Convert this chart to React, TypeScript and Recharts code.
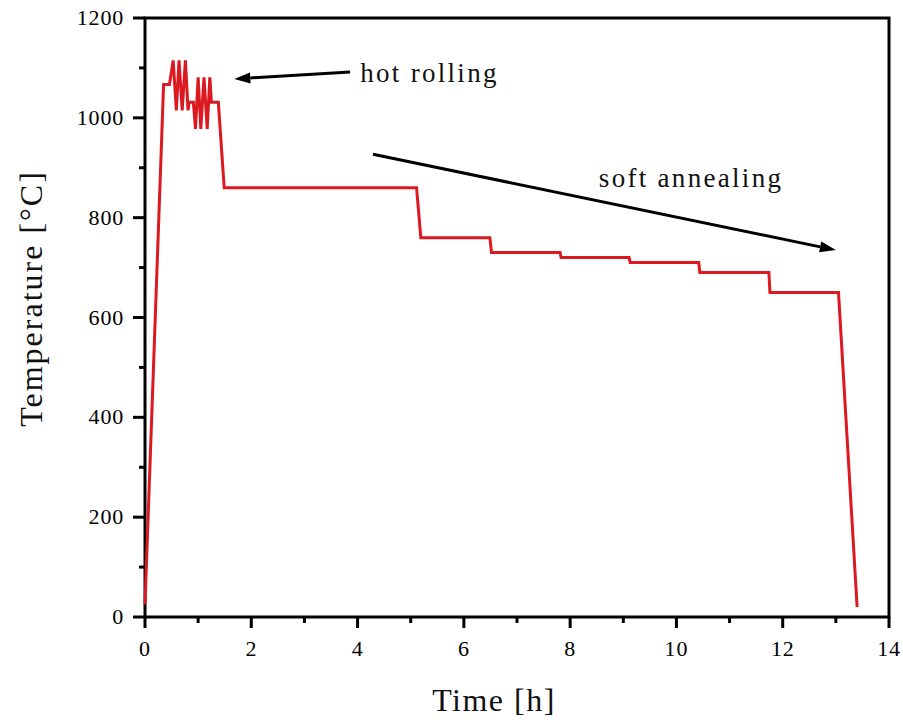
import {
  LineChart,
  Line,
  XAxis,
  YAxis,
  ReferenceLine,
  ReferenceDot,
  ReferenceArea,
} from 'recharts'

// heating schedule
const times = [
  0, 0.35, 0.46, 0.53, 0.59, 0.64, 0.7, 0.76, 0.81, 0.83,
  0.91, 0.95, 1.0, 1.05, 1.11, 1.17, 1.22, 1.25, 1.38, 1.49,
  5.11, 5.19, 6.49, 6.52, 7.81, 7.83, 9.11, 9.13, 10.42, 10.44,
  11.74, 11.76, 13.05, 13.4,
]
const temps = [
  25, 1067, 1067, 1115, 1015, 1115, 1015, 1115, 1015, 1031,
  1031, 978, 1081, 978, 1081, 978, 1081, 1031, 1031, 860,
  860, 760, 760, 730, 730, 720, 720, 710, 710, 690,
  690, 650, 650, 20,
]

const xTicks = [0, 1, 2, 3, 4, 5, 6, 7, 8, 9, 10, 11, 12, 13, 14]
const yTicks = [0, 100, 200, 300, 400, 500, 600, 700, 800, 900, 1000, 1100, 1200]
const xDomain = [0, 14]
const yDomain = [0, 1200]

// annotation arrows: [tail, head] in (h, °C)
const hotArrow = [{ x: 3.86, y: 1092 }, { x: 1.68, y: 1078 }]
const softArrow = [{ x: 4.29, y: 927 }, { x: 13.0, y: 735 }]
const hotLabel = { x: 4.05, y: 1071, text: 'hot rolling' }
const softLabel = { x: 8.54, y: 862, text: 'soft annealing' }

const data = times.map((t, i) => ({ time: t, temp: temps[i] }))

const FONT = '"Liberation Serif", "Times New Roman", serif'
const RED = '#dc1820'

function BottomTick({ x, y, payload }: any) {
  const major = payload.value % 2 === 0
  return (
    <g>
      <line x1={x} y1={y} x2={x} y2={y + (major ? 11 : 6)} stroke="#000" strokeWidth={3} />
      {major && (
        <text x={x} y={y + 39} textAnchor="middle" fontFamily={FONT} fontSize={22} letterSpacing={0.8} fill="#000">
          {payload.value}
        </text>
      )}
    </g>
  )
}

function LeftTick({ x, y, payload }: any) {
  const major = payload.value % 200 === 0
  return (
    <g>
      <line x1={x} y1={y} x2={x - (major ? 12 : 6)} y2={y} stroke="#000" strokeWidth={3} />
      {major && (
        <text x={x - 21} y={y + 7} textAnchor="end" fontFamily={FONT} fontSize={22} letterSpacing={0.8} fill="#000">
          {payload.value}
        </text>
      )}
    </g>
  )
}

function TopTick({ x, y, payload }: any) {
  const major = payload.value % 2 === 0
  return <line x1={x} y1={y} x2={x} y2={y + (major ? 11 : 5)} stroke="#000" strokeWidth={3} />
}

function RightTick({ x, y, payload }: any) {
  const major = payload.value % 200 === 0
  return <line x1={x} y1={y} x2={x - (major ? 10 : 7)} y2={y} stroke="#000" strokeWidth={3} />
}

function Arrow(props: any) {
  const { x1, y1, x2, y2 } = props
  const ang = Math.atan2(y2 - y1, x2 - x1)
  const len = 16
  const half = 5.5
  const bx = x2 - len * Math.cos(ang)
  const by = y2 - len * Math.sin(ang)
  const px = -Math.sin(ang) * half
  const py = Math.cos(ang) * half
  return (
    <g>
      <line x1={x1} y1={y1} x2={bx} y2={by} stroke="#000" strokeWidth={3} />
      <polygon points={`${x2},${y2} ${bx + px},${by + py} ${bx - px},${by - py}`} fill="#000" />
    </g>
  )
}

function annText(text: string) {
  return (p: any) => (
    <text x={p.cx} y={p.cy} fontFamily={FONT} fontSize={27} letterSpacing={2.3} fill="#111">
      {text}
    </text>
  )
}

export default function App() {
  return (
    <div style={{ position: 'absolute', left: 0, top: 0, background: '#fff' }}>
      <LineChart width={903} height={724} data={data} margin={{ top: 18, right: 14, bottom: 0, left: 0 }}>
        <XAxis
          xAxisId="top"
          orientation="top"
          type="number"
          domain={xDomain}
          ticks={xTicks}
          interval={0}
          height={0}
          tickSize={0}
          tickMargin={0}
          tick={TopTick}
          tickLine={false}
          axisLine={false}
        />
        <XAxis
          dataKey="time"
          type="number"
          domain={xDomain}
          ticks={xTicks}
          interval={0}
          height={107}
          tickSize={0}
          tickMargin={0}
          tick={BottomTick}
          tickLine={false}
          axisLine={false}
          label={{
            content: (p: any) => (
              <text
                x={p.viewBox.x + p.viewBox.width / 2 - 23}
                y={p.viewBox.y + 94}
                textAnchor="middle"
                fontFamily={FONT}
                fontSize={32}
                letterSpacing={1.5}
                fill="#111"
              >
                Time [h]
              </text>
            ),
          }}
        />
        <YAxis
          type="number"
          domain={yDomain}
          ticks={yTicks}
          interval={0}
          width={145}
          tickSize={0}
          tickMargin={0}
          tick={LeftTick}
          tickLine={false}
          axisLine={false}
          label={{
            content: (p: any) => {
              const cx = p.viewBox.x + 42
              const cy = p.viewBox.y + p.viewBox.height / 2 - 19
              return (
                <text
                  x={cx}
                  y={cy}
                  transform={`rotate(-90 ${cx} ${cy})`}
                  textAnchor="middle"
                  fontFamily={FONT}
                  fontSize={32}
                  letterSpacing={2}
                  fill="#111"
                >
                  Temperature [°C]
                </text>
              )
            },
          }}
        />
        <YAxis
          yAxisId="right"
          orientation="right"
          type="number"
          domain={yDomain}
          ticks={yTicks}
          interval={0}
          width={0}
          tickSize={0}
          tickMargin={0}
          tick={RightTick}
          tickLine={false}
          axisLine={false}
        />
        {/* plot frame */}
        <ReferenceArea
          x1={xDomain[0]}
          x2={xDomain[1]}
          y1={yDomain[0]}
          y2={yDomain[1]}
          fill="none"
          fillOpacity={0}
          stroke="#000"
          strokeWidth={3}
          strokeOpacity={1}
          ifOverflow="visible"
        />
        <Line
          dataKey="temp"
          type="linear"
          stroke={RED}
          strokeWidth={3}
          dot={false}
          isAnimationActive={false}
        />
        <ReferenceLine segment={hotArrow} shape={Arrow} ifOverflow="visible" />
        <ReferenceLine segment={softArrow} shape={Arrow} ifOverflow="visible" />
        <ReferenceDot x={hotLabel.x} y={hotLabel.y} r={0} shape={annText(hotLabel.text)} ifOverflow="visible" />
        <ReferenceDot x={softLabel.x} y={softLabel.y} r={0} shape={annText(softLabel.text)} ifOverflow="visible" />
      </LineChart>
    </div>
  )
}
